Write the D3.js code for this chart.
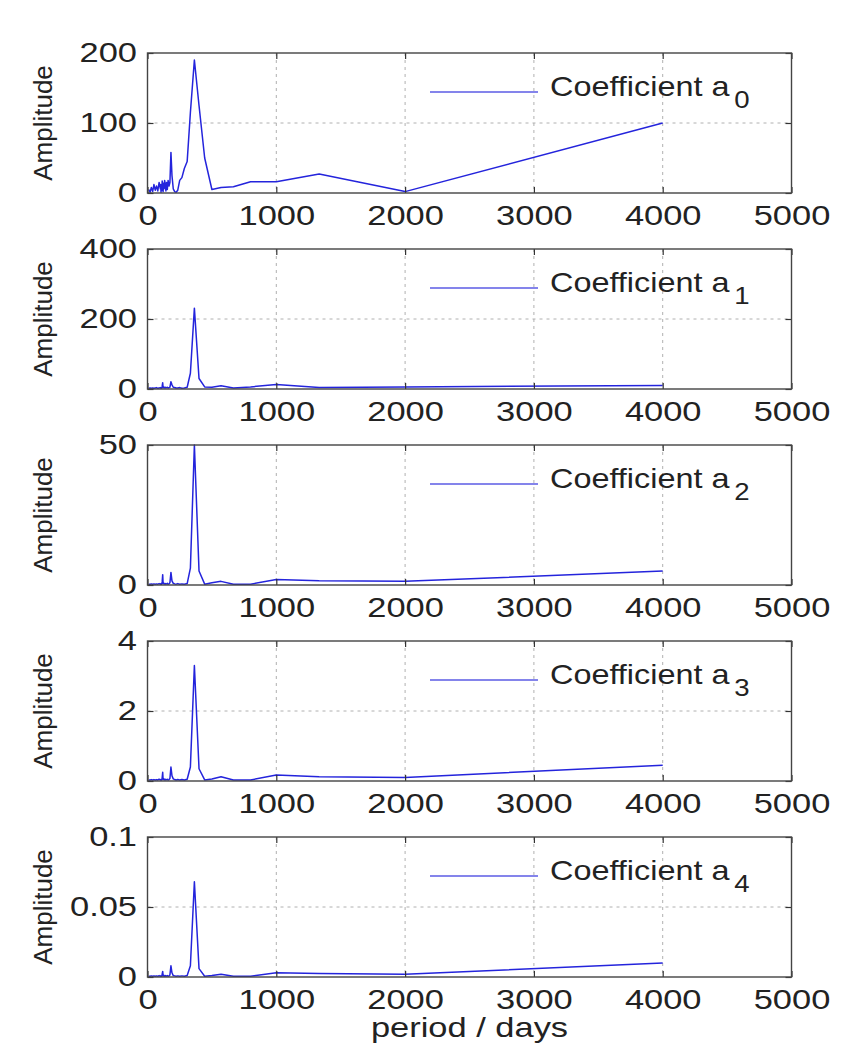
<!DOCTYPE html>
<html>
<head>
<meta charset="utf-8">
<script src="https://cdn.jsdelivr.net/npm/d3@7"></script>
<style>
  body { margin: 0; background: #fff; }
  svg { display: block; }
</style>
</head>
<body>
<svg id="chart"></svg>
<script>
// periods (days) of the spectrum samples, shared by all panels
const periods = [4000, 2000, 1333, 1000, 800, 667, 571, 500, 444, 400,
  364, 333, 308, 286, 267, 250, 235, 222, 211, 200,
  190, 182, 174, 167, 160, 154, 148, 143, 138, 133,
  129, 125, 121, 118, 114, 111, 108, 105, 103, 100,
  90, 80, 70, 60, 50, 40, 30, 20, 10];

const a0 = [100, 2, 27, 16, 16, 9, 8, 5, 50, 125,
  190, 115, 45, 35, 22, 18, 4, 1, 2, 6,
  25, 58, 15, 10, 18, 5, 15, 3, 12, 18,
  6, 14, 2, 10, 17, 4, 9, 1, 12, 6,
  15, 3, 10, 4, 12, 2, 8, 1, 5];

const a1 = [10, 6, 4, 13, 6, 3, 9, 5, 6, 30,
  231, 45, 5, 3, 2, 4, 3, 3, 4, 5,
  12, 21, 5, 4, 3, 5, 4, 3, 5, 4,
  3, 6, 4, 18, 8, 3, 4, 2, 3, 4,
  3, 2, 4, 3, 2, 3, 2, 3, 2];

const a2 = [5, 1.3, 1.5, 2, 0.3, 0.3, 1.3, 0.8, 0.3, 5,
  50, 6, 0.5, 0.3, 0.4, 0.3, 0.5, 0.3, 0.4, 0.6,
  1.5, 4.5, 0.8, 0.4, 0.3, 0.6, 0.4, 0.3, 0.5, 0.4,
  0.3, 0.8, 0.6, 3.7, 1.2, 0.3, 0.4, 0.3, 0.4, 0.3,
  0.5, 0.3, 0.4, 0.3, 0.4, 0.3, 0.4, 0.3, 0.3];

const a3 = [0.45, 0.1, 0.12, 0.17, 0.03, 0.03, 0.12, 0.06, 0.03, 0.35,
  3.3, 0.4, 0.05, 0.03, 0.04, 0.03, 0.04, 0.03, 0.04, 0.06,
  0.15, 0.4, 0.07, 0.04, 0.03, 0.05, 0.04, 0.03, 0.05, 0.04,
  0.03, 0.07, 0.05, 0.25, 0.1, 0.03, 0.04, 0.03, 0.04, 0.03,
  0.05, 0.03, 0.04, 0.03, 0.04, 0.03, 0.04, 0.03, 0.03];

const a4 = [0.010, 0.002, 0.0025, 0.003, 0.0005, 0.0005, 0.002, 0.001, 0.0005, 0.006,
  0.068, 0.008, 0.001, 0.0005, 0.0008, 0.0005, 0.0008, 0.0005, 0.0008, 0.001,
  0.003, 0.008, 0.0015, 0.0008, 0.0005, 0.001, 0.0008, 0.0005, 0.001, 0.0008,
  0.0005, 0.0015, 0.001, 0.004, 0.002, 0.0005, 0.0008, 0.0005, 0.0008, 0.0005,
  0.001, 0.0005, 0.0008, 0.0005, 0.0008, 0.0005, 0.0008, 0.0005, 0.0005];

const series = [a0, a1, a2, a3, a4];
const subscripts = ["0", "1", "2", "3", "4"];
const yTicks = [[0, 100, 200], [0, 200, 400], [0, 50], [0, 2, 4], [0, 0.05, 0.1]];
const xTicks = [0, 1000, 2000, 3000, 4000, 5000];

const W = 845, H = 1053;
const left = 147.5, right = 791.5;
const firstTop = 53, panelH = 140, gap = 196;
const font = "'Liberation Sans', Arial, Helvetica, sans-serif";
const lineColor = "#2424dc";
const sx = 1.23; // source text is horizontally stretched

const svg = d3.select("#chart")
  .attr("width", W)
  .attr("height", H)
  .attr("font-family", font);

const x = d3.scaleLinear().domain([0, 5000]).range([left, right]);

const styleAxis = (sel) => {
  sel.select(".domain").remove();
  sel.attr("font-family", font).attr("font-size", null);
  sel.selectAll(".tick line").attr("stroke", "#333").attr("stroke-width", 1.2);
};

series.forEach((vals, i) => {
  const top = firstTop + i * gap;
  const bottom = top + panelH;
  const yt = yTicks[i];
  const y = d3.scaleLinear().domain([yt[0], yt[yt.length - 1]]).range([bottom, top]);

  const g = svg.append("g").attr("class", "panel");

  // grid
  g.append("g").selectAll("line.vg")
    .data(xTicks.slice(1, -1))
    .join("line")
    .attr("x1", d => x(d)).attr("x2", d => x(d))
    .attr("y1", top).attr("y2", bottom)
    .attr("stroke", "#b0b0b0").attr("stroke-width", 1)
    .attr("stroke-dasharray", "3,4");

  g.append("g").selectAll("line.hg")
    .data(yt.slice(1, -1))
    .join("line")
    .attr("x1", left).attr("x2", right)
    .attr("y1", d => y(d)).attr("y2", d => y(d))
    .attr("stroke", "#b0b0b0").attr("stroke-width", 1)
    .attr("stroke-dasharray", "3,4");

  // data line
  const data = periods.map((p, k) => ({ p: p, v: vals[k] }));
  const line = d3.line().x(d => x(d.p)).y(d => y(d.v));
  g.append("path")
    .datum(data)
    .attr("fill", "none")
    .attr("stroke", lineColor)
    .attr("stroke-width", 1.5)
    .attr("stroke-linejoin", "round")
    .attr("d", line);

  // axes
  const gx = g.append("g")
    .attr("transform", `translate(0,${bottom})`)
    .call(d3.axisBottom(x).tickValues(xTicks).tickSizeInner(-6).tickSizeOuter(0).tickPadding(12)
      .tickFormat(d3.format("d")));
  styleAxis(gx);
  gx.selectAll("text")
    .attr("font-size", 28)
    .attr("fill", "#222")
    .attr("transform", `scale(${sx},1)`);

  const gt = g.append("g")
    .attr("transform", `translate(0,${top})`)
    .call(d3.axisTop(x).tickValues(xTicks).tickSizeInner(-6).tickSizeOuter(0).tickFormat(""));
  styleAxis(gt);

  const gy = g.append("g")
    .attr("transform", `translate(${left},0)`)
    .call(d3.axisLeft(y).tickValues(yt).tickSizeInner(-6).tickSizeOuter(0).tickPadding(10)
      .tickFormat(d => String(d)));
  styleAxis(gy);
  gy.selectAll("text")
    .attr("font-size", 28)
    .attr("fill", "#222")
    .attr("x", -10.5 / sx)
    .attr("transform", `scale(${sx},1)`);

  const gr = g.append("g")
    .attr("transform", `translate(${right},0)`)
    .call(d3.axisRight(y).tickValues(yt).tickSizeInner(-6).tickSizeOuter(0).tickFormat(""));
  styleAxis(gr);

  // frame
  g.append("rect")
    .attr("x", left).attr("y", top)
    .attr("width", right - left).attr("height", panelH)
    .attr("fill", "none")
    .attr("stroke", "#444")
    .attr("stroke-width", 1.4);

  // y label
  g.append("text")
    .attr("transform", `translate(52,${(top + bottom) / 2}) rotate(-90)`)
    .attr("text-anchor", "middle")
    .attr("font-size", 26)
    .attr("fill", "#222")
    .text("Amplitude");

  // legend
  g.append("line")
    .attr("x1", 430).attr("x2", 538)
    .attr("y1", top + 39).attr("y2", top + 39)
    .attr("stroke", lineColor)
    .attr("stroke-opacity", 0.75)
    .attr("stroke-width", 1.5);

  const lt = g.append("text")
    .attr("transform", `translate(550,${top + 43}) scale(1.2,1)`)
    .attr("font-size", 27)
    .attr("fill", "#222");
  lt.append("tspan").text("Coefficient a");
  lt.append("tspan")
    .attr("dx", 4)
    .attr("dy", 12)
    .attr("font-size", 23)
    .text(subscripts[i]);
});

svg.append("text")
  .attr("transform", `translate(${(left + right) / 2},1037) scale(${sx},1)`)
  .attr("text-anchor", "middle")
  .attr("font-size", 28)
  .attr("fill", "#222")
  .text("period / days");
</script>
</body>
</html>
